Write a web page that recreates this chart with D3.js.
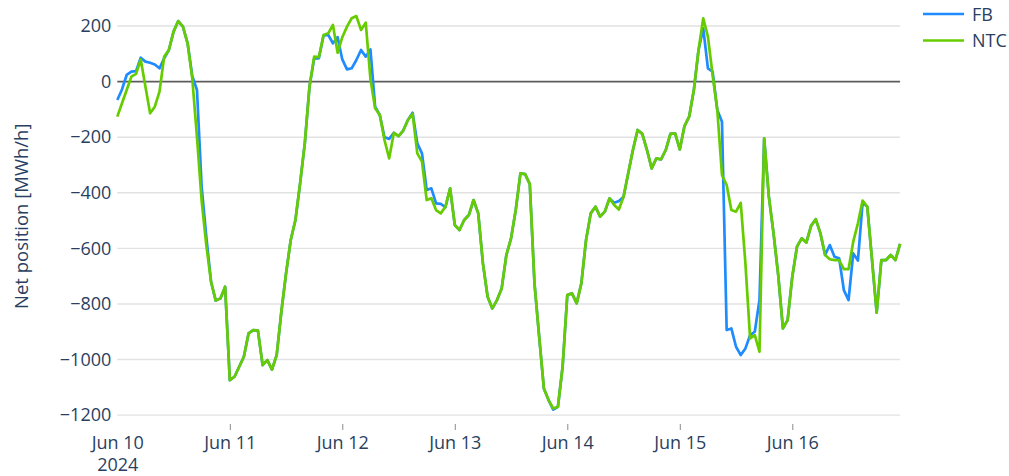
<!DOCTYPE html>
<html>
<head>
<meta charset="utf-8">
<script src="https://cdn.jsdelivr.net/npm/d3@7"></script>
<style>
  body { margin: 0; background: #fff; }
  svg text { font-family: "Open Sans", "Noto Sans", sans-serif; fill: #2a3f5f; }
</style>
</head>
<body>
<svg id="chart" width="1009" height="476"></svg>
<script>
// Hourly net position, 10–16 June 2024 (UTC hours from the first timestamp)
const startTime = Date.UTC(2024, 5, 10, 0);

const fb = [
  -66, -28, 24, 36, 38, 86, 72, 68, 62, 48, 84, 114, 180, 218, 198, 138, 20, -30, -380, -560, -720, -788, -780, -738,
  -1074, -1062, -1026, -990, -906, -894, -896, -1020, -1002, -1036, -984, -828, -690, -570, -498, -366, -222, -18, 84, 84, 166, 168, 138, 160,
  80, 44, 48, 78, 114, 90, 116, -90, -120, -200, -206, -184, -196, -176, -138, -112, -222, -258, -390, -384, -438, -440, -452, -384,
  -516, -534, -498, -480, -426, -474, -654, -774, -816, -786, -744, -624, -564, -462, -330, -333, -369, -726, -918, -1104, -1146, -1180, -1170, -1026,
  -768, -762, -798, -726, -570, -474, -450, -486, -468, -420, -436, -430, -414, -330, -246, -174, -188, -246, -312, -276, -280, -246, -188, -186,
  -244, -160, -126, -30, 114, 192, 48, 36, -102, -144, -894, -888, -954, -984, -960, -912, -900, -786, -204, -414, -546, -696, -888, -858,
  -702, -594, -564, -579, -519, -495, -546, -624, -588, -630, -636, -750, -786, -618, -644, -435, -450, -640, -831, -642, -642, -624, -642, -584
];

const ntc = [
  -126, -78, -30, 18, 28, 80, -18, -114, -90, -36, 90, 114, 180, 218, 198, 138, 10, -200, -430, -590, -720, -788, -780, -738,
  -1074, -1062, -1026, -990, -906, -894, -896, -1020, -1002, -1036, -984, -828, -690, -570, -498, -366, -222, -18, 90, 88, 168, 174, 204, 104,
  160, 198, 228, 236, 186, 212, 10, -96, -120, -210, -276, -184, -196, -176, -138, -116, -258, -288, -426, -420, -462, -474, -450, -384,
  -516, -534, -498, -480, -426, -474, -654, -774, -816, -786, -744, -624, -564, -462, -330, -333, -369, -726, -918, -1104, -1146, -1176, -1170, -1026,
  -768, -762, -798, -726, -570, -474, -450, -486, -468, -420, -444, -460, -414, -330, -246, -174, -188, -246, -312, -276, -280, -246, -188, -186,
  -244, -160, -126, -30, 114, 228, 162, 24, -102, -336, -372, -462, -468, -436, -654, -924, -912, -972, -204, -414, -546, -696, -888, -858,
  -702, -594, -564, -579, -519, -495, -546, -624, -639, -642, -642, -675, -675, -576, -510, -428, -450, -640, -831, -642, -642, -624, -642, -584
];

const seriesNames = ["FB", "NTC"];
const seriesColors = ["#1f8bff", "#66cc00"];

const dayTicks = [10, 11, 12, 13, 14, 15, 16].map(d => Date.UTC(2024, 5, d));
const dayTickLabels = ["Jun 10", "Jun 11", "Jun 12", "Jun 13", "Jun 14", "Jun 15", "Jun 16"];
const yearLabel = "2024";
const yTicks = [200, 0, -200, -400, -600, -800, -1000, -1200];
const yTitle = "Net position [MWh/h]";

const svg = d3.select("#chart");
const plot = { left: 117.3, right: 900.1, top: 0.5, bottom: 424 };

const hourMs = 3600 * 1000;
const times = d3.range(ntc.length).map(i => new Date(startTime + i * hourMs));

const x = d3.scaleUtc()
  .domain([times[0], times[times.length - 1]])
  .range([plot.left, plot.right]);

const y = d3.scaleLinear()
  .domain([-1232, 292])
  .range([plot.bottom, plot.top]);

// horizontal grid
svg.append("g")
  .selectAll("line")
  .data(yTicks.filter(v => v !== 0))
  .join("line")
  .attr("x1", plot.left).attr("x2", plot.right)
  .attr("y1", d => y(d)).attr("y2", d => y(d))
  .attr("stroke", "#e2e2e2")
  .attr("stroke-width", 1.4);

// zero line
svg.append("line")
  .attr("x1", plot.left).attr("x2", plot.right)
  .attr("y1", y(0)).attr("y2", y(0))
  .attr("stroke", "#5c5c5c")
  .attr("stroke-width", 1.6);

// y axis labels
const yAxis = d3.axisLeft(y).tickValues(yTicks).tickSize(0).tickPadding(6)
  .tickFormat(d => d < 0 ? "\u2212" + Math.abs(d) : String(d));
const gy = svg.append("g").attr("transform", `translate(${plot.left},0)`).call(yAxis);
gy.select(".domain").remove();
gy.selectAll("text").attr("font-size", 18).attr("fill", "#2a3f5f")
  .style("font-family", "'Open Sans', sans-serif");

// x axis
const xAxis = d3.axisBottom(x).tickValues(dayTicks.map(t => new Date(t)))
  .tickSize(6).tickPadding(6)
  .tickFormat((d, i) => dayTickLabels[i]);
const gx = svg.append("g").attr("transform", `translate(0,${plot.bottom})`).call(xAxis);
gx.select(".domain").remove();
gx.selectAll(".tick line").attr("stroke", "#8a8a8a").attr("stroke-width", 1)
  .attr("opacity", (d, i) => i === 0 ? 0 : 1);
gx.selectAll("text").attr("font-size", 18).attr("fill", "#2a3f5f")
  .style("font-family", "'Open Sans', sans-serif");
gx.selectAll(".tick").filter((d, i) => i === 0)
  .append("text")
  .attr("y", 47)
  .attr("text-anchor", "middle")
  .attr("font-size", 18)
  .attr("fill", "#2a3f5f")
  .text(yearLabel);

// y title
svg.append("text")
  .attr("transform", `translate(28,${(plot.top + plot.bottom) / 2 + 4}) rotate(-90)`)
  .attr("text-anchor", "middle")
  .attr("font-size", 18.5)
  .text(yTitle);

// series lines
const line = d3.line()
  .x((d, i) => x(times[i]))
  .y(d => y(d));

svg.append("g")
  .selectAll("path")
  .data([fb, ntc])
  .join("path")
  .attr("d", line)
  .attr("fill", "none")
  .attr("stroke", (d, i) => seriesColors[i])
  .attr("stroke-width", 2.7)
  .attr("stroke-linejoin", "round");

// legend
const legend = svg.append("g").attr("transform", "translate(923,14)");
const item = legend.selectAll("g").data(seriesNames).join("g")
  .attr("transform", (d, i) => `translate(0,${i * 26.5})`);
item.append("line")
  .attr("x1", 0).attr("x2", 41).attr("y1", 0).attr("y2", 0)
  .attr("stroke", (d, i) => seriesColors[i])
  .attr("stroke-width", 2.7);
item.append("text")
  .attr("x", 49).attr("y", 6.5)
  .attr("font-size", 18)
  .text(d => d);
</script>
</body>
</html>
